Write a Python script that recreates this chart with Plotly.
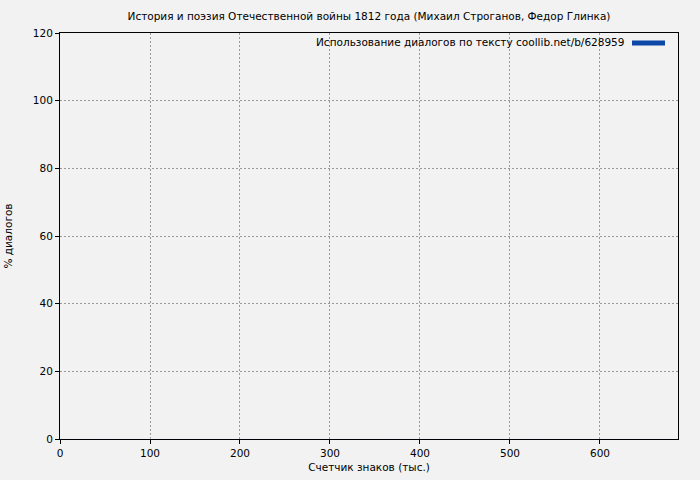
import plotly.graph_objects as go

# Data: share of dialogues per text chunk (all zero in the reference)
chunk_start_k = [0, 20, 40, 60, 80, 100, 120, 140, 160, 180, 200, 220, 240, 260, 280, 300,
                 320, 340, 360, 380, 400, 420, 440, 460, 480, 500, 520, 540, 560, 580,
                 600, 620, 640, 660]
dialog_pct = [0] * len(chunk_start_k)
x_ticks = [0, 100, 200, 300, 400, 500, 600]
y_ticks = [0, 20, 40, 60, 80, 100, 120]

title = "История и поэзия Отечественной войны 1812 года (Михаил Строганов, Федор Глинка)"
legend_text = "Использование диалогов по тексту coollib.net/b/628959"
blue = "#0d47a8"
font = "DejaVu Sans"
fs = 10.5

fig = go.Figure()
fig.add_trace(go.Bar(x=chunk_start_k, y=dialog_pct, marker_color=blue, width=18,
                     offset=0, showlegend=False, name=legend_text))

grid = dict(showgrid=True, gridcolor="#999999", griddash="2px,2px", gridwidth=1,
            showline=True, linecolor="black", linewidth=1, mirror=True,
            ticks="outside", ticklen=4, tickcolor="black", zeroline=False,
            automargin=False,
            tickfont=dict(family=font, size=fs, color="black"))

fig.update_layout(
    width=700, height=480,
    paper_bgcolor="#f2f2f2", plot_bgcolor="#f2f2f2",
    margin=dict(l=60, r=22, t=33, b=41),
    font=dict(family=font, size=fs, color="black"),
    title=dict(text=title, xref="paper", x=0.5, xanchor="center", y=1 - 16/480, yanchor="middle",
               font=dict(family=font, size=fs, color="black")),
    xaxis=dict(range=[0, 686.7], tickvals=x_ticks,
               title=dict(text="Счетчик знаков (тыс.)", standoff=6,
                          font=dict(family=font, size=fs)), **grid),
    yaxis=dict(range=[0, 120], tickvals=y_ticks,
               title=dict(text="% диалогов", standoff=18,
                          font=dict(family=font, size=fs)), **grid),
    showlegend=False,
)

fig.add_annotation(text=legend_text, xref="paper", yref="paper",
                   x=(626 - 60) / 618, y=(439 - 42) / 406, xanchor="right", yanchor="middle",
                   showarrow=False, font=dict(family=font, size=fs, color="black"))
fig.add_shape(type="line", xref="paper", yref="paper",
              x0=(632 - 60) / 618, x1=(665 - 60) / 618,
              y0=(439 - 43) / 406, y1=(439 - 43) / 406,
              line=dict(color=blue, width=5))

fig.write_html("out.html", config={"displayModeBar": False},
               post_script="document.body.style.margin='0';")
